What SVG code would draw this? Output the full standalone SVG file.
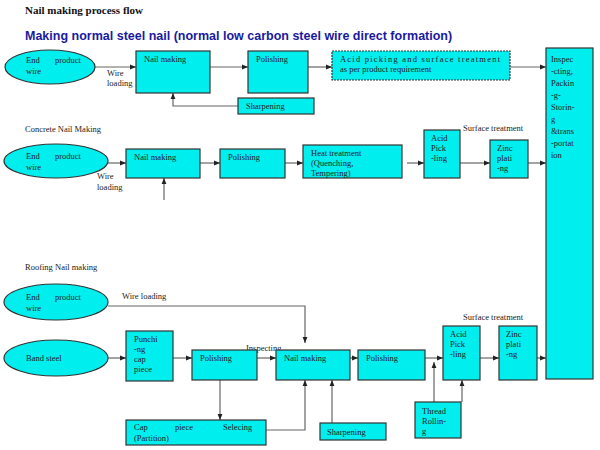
<svg xmlns="http://www.w3.org/2000/svg" width="600" height="450" viewBox="0 0 600 450">
<defs>
<marker id="a" viewBox="0 0 10 10" refX="10" refY="5" markerWidth="5" markerHeight="5" orient="auto"><path d="M0,1 L10,5 L0,9 z" fill="#222"/></marker>
<style>
.b{fill:#00eeee;stroke:#333;stroke-width:1.2}
.t{font-family:"Liberation Serif",serif;font-size:8.5px;fill:#222}
.l{stroke:#666;stroke-width:1.2;fill:none;marker-end:url(#a)}
</style>
</defs>
<rect width="600" height="450" fill="#fff"/>
<text x="25" y="14" font-family="Liberation Serif,serif" font-weight="bold" font-size="11" fill="#111">Nail making process flow</text>
<text x="25" y="40" font-family="Liberation Sans,sans-serif" font-weight="bold" font-size="12.5" fill="#1a1aa0">Making normal steel nail (normal low carbon steel wire direct formation)</text>
<text class="t" x="25" y="132">Concrete Nail Making</text>
<text class="t" x="25" y="270">Roofing Nail making</text>
<g id="connectors">
<path class="l" d="M95,67H136"/><path class="l" d="M210,67H248"/><path class="l" d="M308,67H332"/><path class="l" d="M510,67H546"/>
<path class="l" d="M238,106H173V93"/>
<path class="l" d="M108,163H126"/><path class="l" d="M200,163H220"/><path class="l" d="M285,163H303"/><path class="l" d="M407,163H424"/><path class="l" d="M460,163H490"/><path class="l" d="M528,163H546"/>
<path class="l" d="M164,200V178"/>
<path class="l" d="M108,306H305V343"/>
<path class="l" d="M108,358H126"/><path class="l" d="M173,358H192"/><path class="l" d="M257,358H276"/><path class="l" d="M350,358H358"/><path class="l" d="M425,358H443"/><path class="l" d="M480,358H499"/><path class="l" d="M537,358H546"/>
<path class="l" d="M220,380V420"/><path class="l" d="M266,430H305V380"/><path class="l" d="M332,423V380"/>
<path class="l" d="M434,402V362"/><path class="l" d="M462,402V380"/>
</g>
<text class="t" x="107" y="76">Wire</text><text class="t" x="107" y="86">loading</text>
<text class="t" x="97" y="179">Wire</text><text class="t" x="97" y="190">loading</text>
<text class="t" x="122" y="299">Wire loading</text>
<text class="t" x="246" y="351">Inspecting</text>
<text class="t" x="463" y="131">Surface treatment</text>
<text class="t" x="463" y="320">Surface treatment</text>
<g id="inspect"><rect class="b" x="546" y="48" width="47" height="331"/><text class="t" x="551" y="62">Inspec</text><text class="t" x="551" y="74">-cting,</text><text class="t" x="551" y="86">Packin</text><text class="t" x="551" y="98">-g-</text><text class="t" x="551" y="110">Storin-</text><text class="t" x="551" y="122">g</text><text class="t" x="551" y="134">&amp;trans</text><text class="t" x="551" y="146">-portat</text><text class="t" x="551" y="158">ion</text></g>
<g id="r1wire"><ellipse class="b" cx="50" cy="67" rx="45" ry="17"/><text class="t" x="26" y="63">End</text><text class="t" x="55" y="63">product</text><text class="t" x="26" y="74">wire</text></g>
<g id="r1nail"><rect class="b" x="136" y="51" width="74" height="42"/><text class="t" x="144" y="62">Nail making</text></g>
<g id="r1pol"><rect class="b" x="248" y="51" width="60" height="42"/><text class="t" x="256" y="62">Polishing</text></g>
<g id="r1acid"><rect class="b" x="332" y="51" width="178" height="29" stroke-dasharray="2,1"/><text class="t" x="340" y="62" textLength="160">Acid picking and surface treatment</text><text class="t" x="340" y="72">as per product requirement</text></g>
<g id="r1sharp"><rect class="b" x="238" y="98" width="76" height="16"/><text class="t" x="246" y="109" font-size="7">Sharpening</text></g>
<g id="r2wire"><ellipse class="b" cx="56" cy="161" rx="52" ry="17"/><text class="t" x="26" y="159">End</text><text class="t" x="55" y="159">product</text><text class="t" x="26" y="170">wire</text></g>
<g id="r2nail"><rect class="b" x="126" y="149" width="74" height="29"/><text class="t" x="134" y="160">Nail making</text></g>
<g id="r2pol"><rect class="b" x="220" y="149" width="65" height="29"/><text class="t" x="228" y="160">Polishing</text></g>
<g id="r2heat"><rect class="b" x="303" y="145" width="99" height="33"/><text class="t" x="311" y="156">Heat treatment</text><text class="t" x="311" y="166">(Quenching,</text><text class="t" x="311" y="176">Tempering)</text></g>
<g id="r2acid"><rect class="b" x="424" y="130" width="36" height="48"/><text class="t" x="431" y="141">Acid</text><text class="t" x="431" y="151">Pick</text><text class="t" x="431" y="161">-ling</text></g>
<g id="r2zinc"><rect class="b" x="490" y="140" width="38" height="38"/><text class="t" x="497" y="151">Zinc</text><text class="t" x="497" y="161">plati</text><text class="t" x="497" y="171">-ng</text></g>
<g id="r3wire"><ellipse class="b" cx="56" cy="302" rx="52" ry="18"/><text class="t" x="26" y="300">End</text><text class="t" x="55" y="300">product</text><text class="t" x="26" y="311">wire</text></g>
<g id="r3band"><ellipse class="b" cx="56" cy="358" rx="52" ry="18"/><text class="t" x="26" y="361">Band steel</text></g>
<g id="r3punch"><rect class="b" x="126" y="331" width="47" height="50"/><text class="t" x="134" y="342">Punchi</text><text class="t" x="134" y="352">-ng</text><text class="t" x="134" y="362">cap</text><text class="t" x="134" y="372">piece</text></g>
<g id="r3pol"><rect class="b" x="192" y="350" width="65" height="30"/><text class="t" x="200" y="361">Polishing</text></g>
<g id="r3nail"><rect class="b" x="276" y="350" width="74" height="30"/><text class="t" x="284" y="361">Nail making</text></g>
<g id="r3pol2"><rect class="b" x="358" y="350" width="67" height="30"/><text class="t" x="366" y="361">Polishing</text></g>
<g id="r3acid"><rect class="b" x="443" y="326" width="37" height="54"/><text class="t" x="450" y="337">Acid</text><text class="t" x="450" y="347">Pick</text><text class="t" x="450" y="357">-ling</text></g>
<g id="r3zinc"><rect class="b" x="499" y="326" width="38" height="54"/><text class="t" x="506" y="337">Zinc</text><text class="t" x="506" y="347">plati</text><text class="t" x="506" y="357">-ng</text></g>
<g id="r3cap"><rect class="b" x="126" y="420" width="140" height="25"/><text class="t" x="134" y="430">Cap</text><text class="t" x="175" y="430">piece</text><text class="t" x="223" y="430">Selecing</text><text class="t" x="134" y="441">(Partition)</text></g>
<g id="r3sharp"><rect class="b" x="320" y="423" width="66" height="17"/><text class="t" x="327" y="435">Sharpening</text></g>
<g id="r3thread"><rect class="b" x="415" y="402" width="46" height="36"/><text class="t" x="422" y="414">Thread</text><text class="t" x="422" y="424">Rollin-</text><text class="t" x="422" y="434">g</text></g>
</svg>
